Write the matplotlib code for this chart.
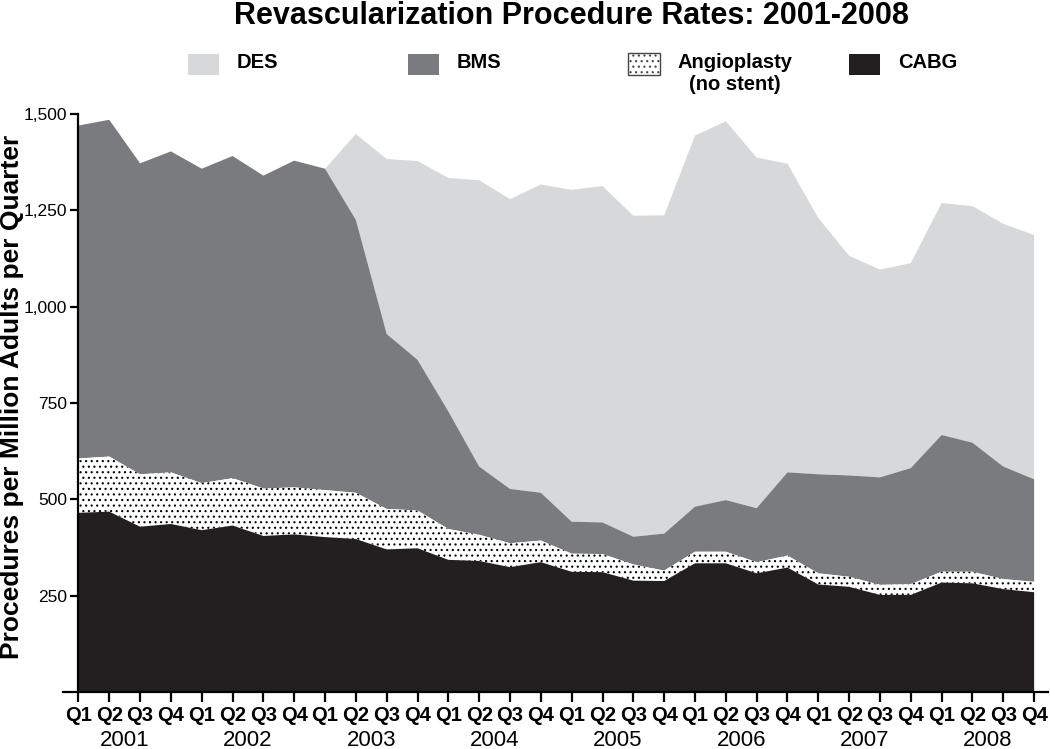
import matplotlib
matplotlib.use("Agg")
import matplotlib.pyplot as plt
from matplotlib.patches import Rectangle
from matplotlib.ticker import FuncFormatter
import numpy as np

plt.rcParams['font.family'] = ['Liberation Sans', 'DejaVu Sans']
plt.rcParams['hatch.linewidth'] = 0.8

# quarters 2001 Q1 .. 2008 Q4
quarters = ['Q1', 'Q2', 'Q3', 'Q4'] * 8
years = ['2001', '2002', '2003', '2004', '2005', '2006', '2007', '2008']

# procedures per million adults per quarter (layer values)
cabg = [465, 468, 429, 436, 420, 432, 405, 409, 402, 397, 370, 373, 343, 340, 324, 337,
        312, 311, 289, 288, 334, 334, 308, 323, 279, 273, 252, 252, 284, 282, 267, 259]
angio = [141, 143, 136, 134, 122, 123, 123, 122, 122, 120, 105, 98, 80, 68, 62, 56,
         47, 47, 42, 27, 30, 30, 29, 31, 29, 26, 26, 28, 28, 30, 26, 27]
bms = [864, 874, 807, 833, 816, 836, 812, 848, 834, 708, 454, 391, 305, 177, 141, 124,
       83, 82, 72, 96, 117, 134, 140, 216, 257, 263, 279, 301, 355, 335, 292, 266]
des = [0, 0, 0, 0, 0, 0, 0, 0, 0, 223, 454, 516, 606, 743, 752, 800,
       861, 873, 833, 826, 963, 983, 910, 801, 665, 570, 539, 532, 602, 614, 630, 634]

c_des = '#d7d8da'
c_bms = '#7a7b7f'
c_cabg = '#231f20'

x = np.arange(len(quarters))
l1 = np.array(cabg)
l2 = l1 + np.array(angio)
l3 = l2 + np.array(bms)
l4 = l3 + np.array(des)

fig = plt.figure(figsize=(10.5, 7.49), dpi=100)
ax = fig.add_axes([63 / 1050, 1 - 692 / 749, 985 / 1050, 578 / 749])

ax.fill_between(x, l3, l4, facecolor=c_des, lw=0)
ax.fill_between(x, l2, l3, facecolor=c_bms, lw=0)
ax.fill_between(x, l1, l2, facecolor='white', edgecolor='black', hatch='...', lw=0)
ax.fill_between(x, 0, l1, facecolor=c_cabg, lw=0)

ax.set_xlim(-0.5, 31.45)
ax.set_ylim(0, 1500)

ax.spines['top'].set_visible(False)
ax.spines['right'].set_visible(False)
ax.spines['left'].set_position(('data', 0))
ax.spines['left'].set_bounds(0, 1500)
ax.spines['left'].set_linewidth(1.6)
ax.spines['bottom'].set_linewidth(1.6)

ax.set_yticks([250, 500, 750, 1000, 1250, 1500])
ax.yaxis.set_major_formatter(FuncFormatter(lambda v, p: '{:,.0f}'.format(v)))
ax.tick_params(axis='y', length=6, width=1.6, labelsize=12.5, pad=2)

ax.set_xticks(x)
ax.set_xticklabels(quarters, fontsize=14.5, fontweight='bold')
ax.set_xticks(np.arange(8) * 4 + 1.5, minor=True)
ax.set_xticklabels(years, minor=True, fontsize=16)
ax.tick_params(axis='x', which='major', length=7, width=1.6, pad=3)
ax.tick_params(axis='x', which='minor', length=0, pad=27)

ax.set_ylabel('Procedures per Million Adults per Quarter', fontsize=19, fontweight='bold')
ax.yaxis.set_label_coords(-0.0395, 0.51)

fig.text(571 / 1050, 1 - 16 / 749, 'Revascularization Procedure Rates: 2001-2008',
         ha='center', va='center', fontsize=22, fontweight='bold')

# legend drawn in figure pixels
W, H = 1050, 749
leg = [('DES', c_des, None, 188), ('BMS', c_bms, None, 408),
       ('Angioplasty\n(no stent)', 'white', '...', 628), ('CABG', c_cabg, None, 849)]
for lab, col, hat, px in leg:
    if hat:
        r = Rectangle((px / W, 1 - 75 / H), 32 / W, 22 / H, transform=fig.transFigure,
                      facecolor=col, edgecolor='#444444', hatch=hat, lw=1.0)
    else:
        r = Rectangle((px / W, 1 - 75 / H), 31 / W, 21 / H, transform=fig.transFigure,
                      facecolor=col, lw=0)
    fig.add_artist(r)
    fig.text((px + 49) / W, 1 - 53 / H, lab, ha='left', va='top', fontsize=14.5,
             fontweight='bold', multialignment='center')

fig.savefig('out.png', dpi=100)
